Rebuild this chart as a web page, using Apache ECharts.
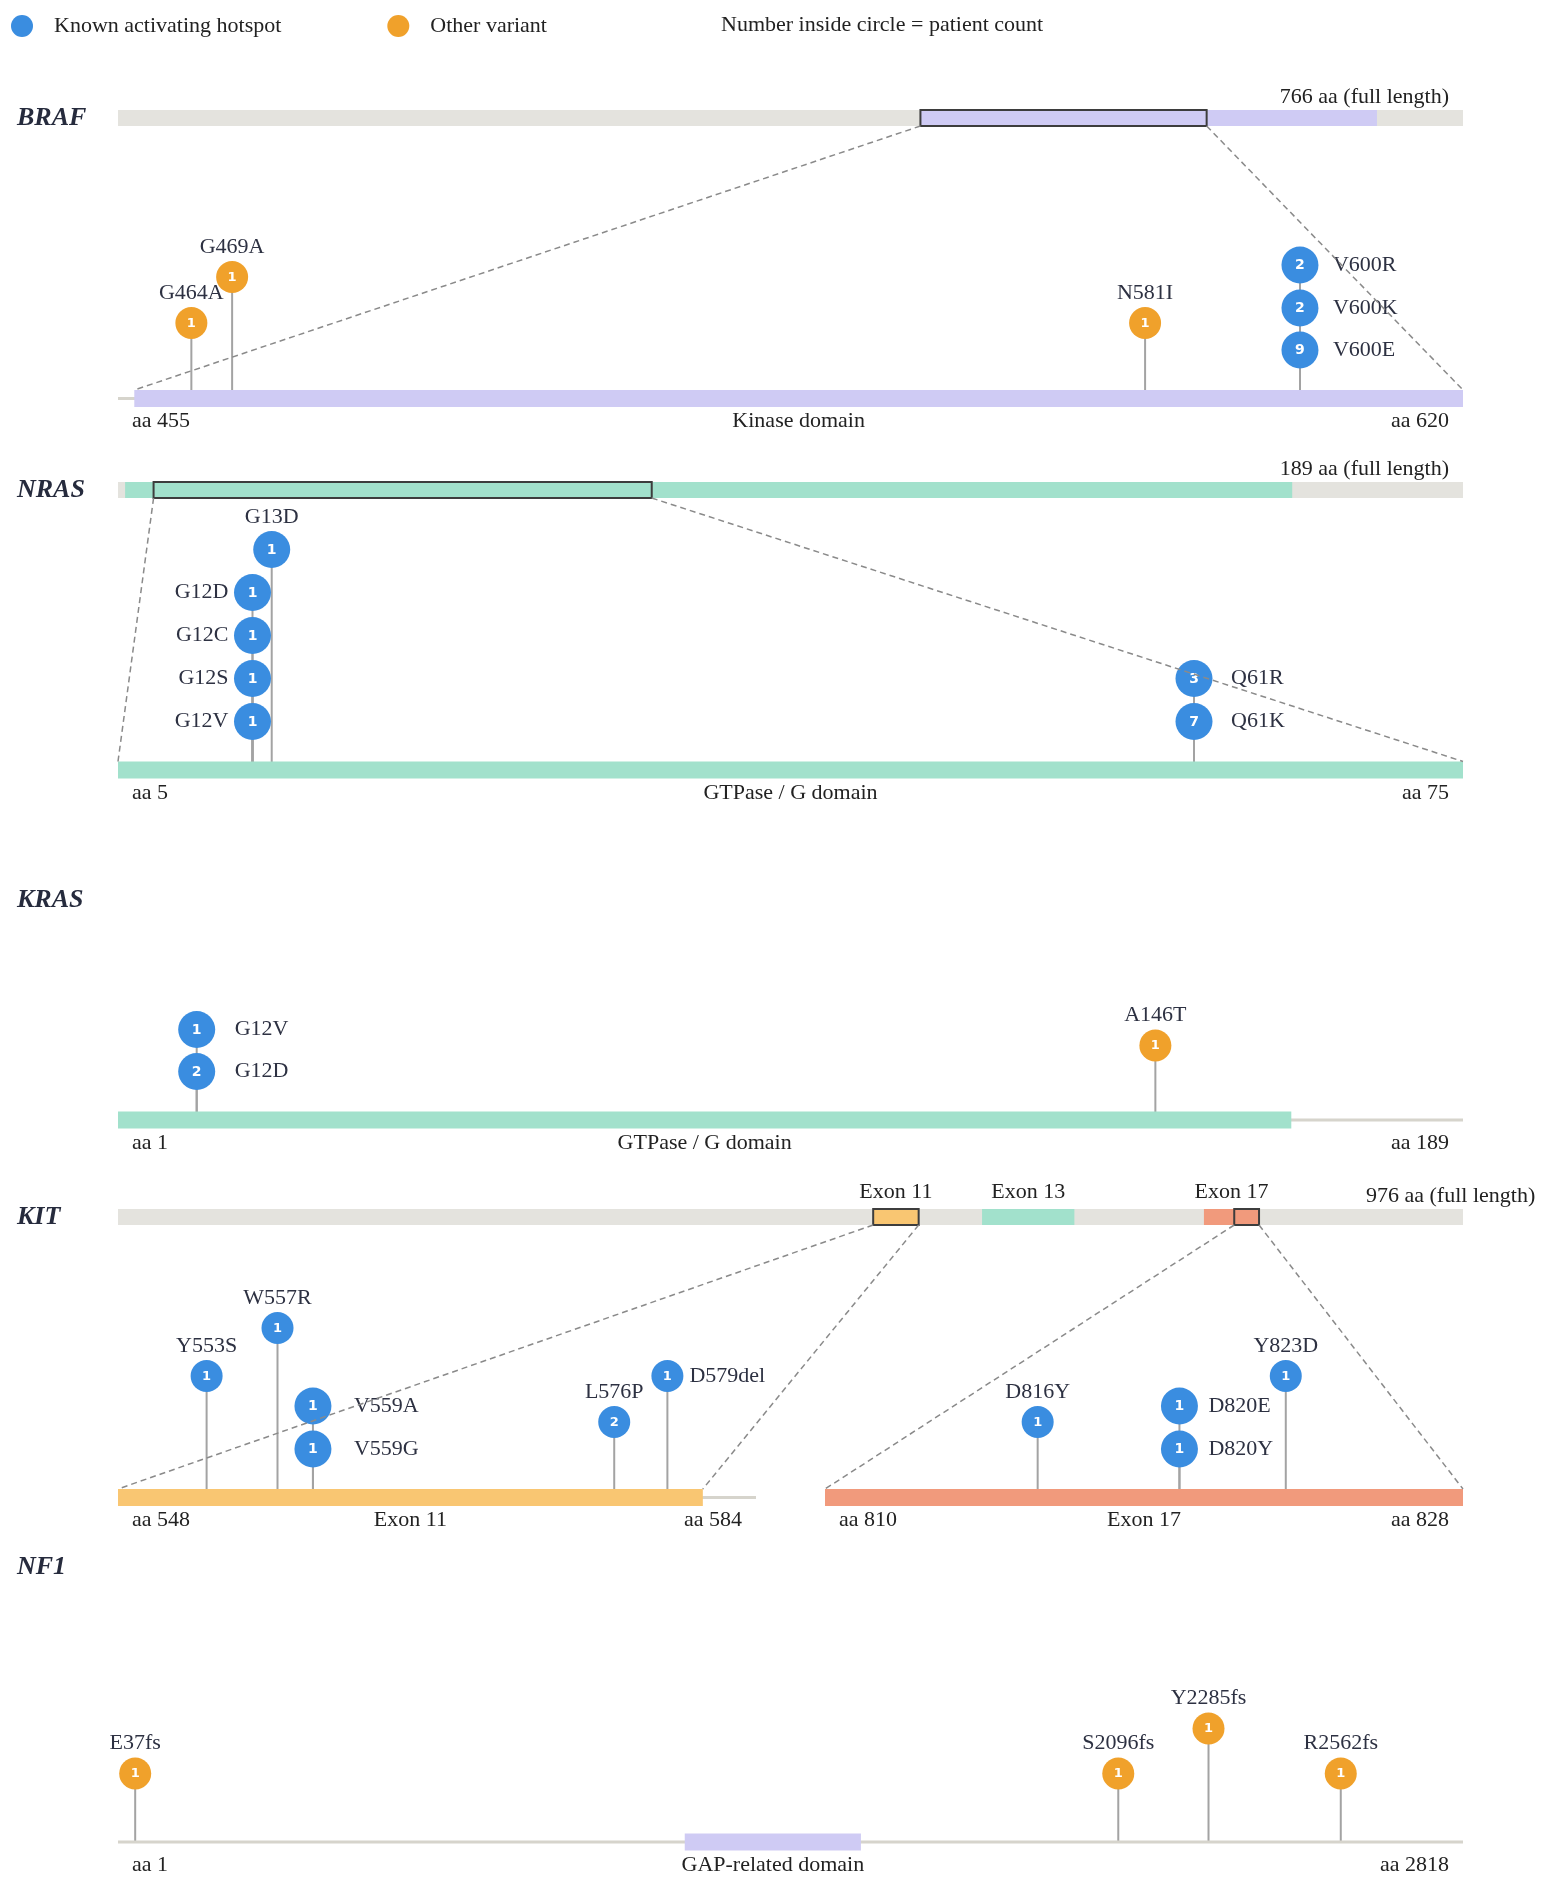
<!DOCTYPE html>
<html>
<head>
<meta charset="utf-8">
<title>Variant lollipops</title>
<script src="https://cdn.jsdelivr.net/npm/echarts@6/dist/echarts.min.js"></script>
<style>
  html, body { margin: 0; padding: 0; background: #fff; }
  #chart { width: 1548px; height: 1887px; }
</style>
</head>
<body>
<div id="chart"></div>
<script>
// ---------- data ----------
const legendNames = ['Known activating hotspot', 'Other variant'];
const legendNote = 'Number inside circle = patient count';

// mutation rows: [name, aa position, patients, known hotspot]
const brafLength = 766;
const brafDomains = [['Kinase domain', 457, 717]];
const brafWindow = [455, 620];
const brafMutations = [
  ['G464A', 464, 1, false],
  ['G469A', 469, 1, false],
  ['N581I', 581, 1, false],
  ['V600E', 600, 9, true],
  ['V600K', 600, 2, true],
  ['V600R', 600, 2, true]
];

const nrasLength = 189;
const nrasDomains = [['GTPase / G domain', 1, 165]];
const nrasWindow = [5, 75];
const nrasMutations = [
  ['G12V', 12, 1, true],
  ['G12S', 12, 1, true],
  ['G12C', 12, 1, true],
  ['G12D', 12, 1, true],
  ['G13D', 13, 1, true],
  ['Q61K', 61, 7, true],
  ['Q61R', 61, 3, true]
];

const krasLength = 189;
const krasDomains = [['GTPase / G domain', 1, 165]];
const krasMutations = [
  ['G12D', 12, 2, true],
  ['G12V', 12, 1, true],
  ['A146T', 146, 1, false]
];

const kitLength = 976;
const kitExons = [['Exon 11', 548, 581], ['Exon 13', 627, 694], ['Exon 17', 788, 828]];
const kitWindow11 = [548, 584];
const kitWindow17 = [810, 828];
const kitMutations = [
  ['Y553S', 553, 1, true],
  ['W557R', 557, 1, true],
  ['V559G', 559, 1, true],
  ['V559A', 559, 1, true],
  ['L576P', 576, 2, true],
  ['D579del', 579, 1, true],
  ['D816Y', 816, 1, true],
  ['D820Y', 820, 1, true],
  ['D820E', 820, 1, true],
  ['Y823D', 823, 1, true]
];

const nf1Length = 2818;
const nf1Domains = [['GAP-related domain', 1188, 1557]];
const nf1Mutations = [
  ['E37fs', 37, 1, false],
  ['S2096fs', 2096, 1, false],
  ['Y2285fs', 2285, 1, false],
  ['R2562fs', 2562, 1, false]
];

// ---------- layout / style ----------
const SERIF = '"Liberation Serif", "Times New Roman", serif';
const TEXT = '#2d3142';
const BLUE = '#3a8de0';
const ORANGE = '#f0a12b';
const BG = '#e4e3de';
const THIN = '#d6d4cc';
const STEM = '#a3a3a3';
const domainColor = {
  'Kinase domain': '#cfcbf4',
  'GAP-related domain': '#cfcbf4',
  'GTPase / G domain': '#a2e1cc',
  'Exon 11': '#f9c672',
  'Exon 13': '#a2e1cc',
  'Exon 17': '#f19a7c'
};
const HALF = 8.5; // half height of zoomed bars

// lift of circle centre above bar top, label side, label offset, radius
const lolliLayout = {
  'BRAF:G464A': [67, 'top', 0, 16],
  'BRAF:G469A': [113, 'top', 0, 16],
  'BRAF:N581I': [67, 'top', 0, 16],
  'BRAF:V600E': [40, 'right', 33, 18.5],
  'BRAF:V600K': [82, 'right', 33, 18.5],
  'BRAF:V600R': [125, 'right', 33, 18.5],
  'NRAS:G12V': [40, 'left', 24, 18.5],
  'NRAS:G12S': [83, 'left', 24, 18.5],
  'NRAS:G12C': [126, 'left', 24, 18.5],
  'NRAS:G12D': [169, 'left', 24, 18.5],
  'NRAS:G13D': [212, 'top', 0, 18.5],
  'NRAS:Q61K': [40, 'right', 37, 18.5],
  'NRAS:Q61R': [83, 'right', 37, 18.5],
  'KRAS:G12D': [40, 'right', 38, 18.5],
  'KRAS:G12V': [82, 'right', 38, 18.5],
  'KRAS:A146T': [66, 'top', 0, 16],
  'KIT:Y553S': [113, 'top', 0, 16],
  'KIT:W557R': [161, 'top', 0, 16],
  'KIT:V559G': [40, 'right', 41, 18.5],
  'KIT:V559A': [83, 'right', 41, 18.5],
  'KIT:L576P': [67, 'top', 0, 16],
  'KIT:D579del': [113, 'right', 22, 16],
  'KIT:D816Y': [67, 'top', 0, 16],
  'KIT:D820Y': [40, 'right', 29, 18.5],
  'KIT:D820E': [83, 'right', 29, 18.5],
  'KIT:Y823D': [113, 'top', 0, 16],
  'NF1:E37fs': [60, 'top', 0, 16],
  'NF1:S2096fs': [60, 'top', 0, 16],
  'NF1:Y2285fs': [105, 'top', 0, 16],
  'NF1:R2562fs': [60, 'top', 0, 16]
};

const geneTitles = [['BRAF', 118], ['NRAS', 490], ['KRAS', 900], ['KIT', 1217], ['NF1', 1567]];

const tracks = [
  { range: [0, brafLength], y: 118, left: 118, width: 1345, kind: 'bar', domains: brafDomains,
    note: brafLength + ' aa (full length)', noteAlign: 'right', noteDx: -14 },
  { range: brafWindow, y: 398.5, left: 118, width: 1345, kind: 'line', domains: brafDomains,
    gene: 'BRAF', muts: brafMutations },
  { range: [0, nrasLength], y: 490, left: 118, width: 1345, kind: 'bar', domains: nrasDomains,
    note: nrasLength + ' aa (full length)', noteAlign: 'right', noteDx: -14 },
  { range: nrasWindow, y: 770, left: 118, width: 1345, kind: 'line', domains: nrasDomains,
    gene: 'NRAS', muts: nrasMutations },
  { range: [1, krasLength], y: 1120, left: 118, width: 1345, kind: 'line', domains: krasDomains,
    gene: 'KRAS', muts: krasMutations },
  { range: [0, kitLength], y: 1217, left: 118, width: 1345, kind: 'bar', domains: kitExons,
    note: kitLength + ' aa (full length)', noteAlign: 'left', noteDx: -97, exonLabels: true },
  { range: kitWindow11, y: 1497.5, left: 118, width: 638, kind: 'line', domains: kitExons,
    gene: 'KIT', muts: kitMutations },
  { range: kitWindow17, y: 1497.5, left: 825, width: 638, kind: 'line', domains: kitExons,
    gene: 'KIT', muts: kitMutations },
  { range: [1, nf1Length], y: 1842, left: 118, width: 1345, kind: 'line', domains: nf1Domains,
    gene: 'NF1', muts: nf1Mutations }
];
// overview track -> zoomed track
const links = [[0, 1], [2, 3], [5, 6], [5, 7]];

function textStyle(text, x, y, size, align, color, weight, family) {
  return {
    text: text, x: x, y: y, fill: color || TEXT,
    fontSize: size, fontFamily: family || SERIF, fontWeight: weight || 'normal',
    align: align, textAlign: align, verticalAlign: 'middle', textVerticalAlign: 'middle'
  };
}

// extent of the domains that fall inside a zoom window
function zoomSpan(t) {
  let s = Infinity, e = -Infinity;
  t.domains.forEach(d => {
    const a = Math.max(d[1], t.range[0]), b = Math.min(d[2], t.range[1]);
    if (b > a) { s = Math.min(s, a); e = Math.max(e, b); }
  });
  return [s, e];
}

tracks.forEach(t => { t.boxes = []; });
links.forEach(l => {
  l.span = zoomSpan(tracks[l[1]]);
  tracks[l[0]].boxes.push(l.span);
});

function trackItems(t) {
  const items = [{ value: [t.range[0], t.range[1]], kind: t.kind }];
  t.domains.forEach(d => {
    const s = Math.max(d[1], t.range[0]), e = Math.min(d[2], t.range[1]);
    if (e > s) items.push({ value: [s, e], kind: 'domain', name: d[0] });
  });
  t.boxes.forEach(b => items.push({ value: b, kind: 'box' }));
  return items;
}

function renderTrack(t, items) {
  return function (params, api) {
    const it = items[params.dataIndex];
    const a = api.coord([it.value[0], 0]);
    const b = api.coord([it.value[1], 0]);
    const y = a[1];
    const w = b[0] - a[0];
    const kids = [];
    if (it.kind === 'bar') {
      kids.push({ type: 'rect', shape: { x: a[0], y: y - 8, width: w, height: 16 }, style: { fill: BG } });
      if (t.note) {
        kids.push({ type: 'text', style: textStyle(t.note, b[0] + t.noteDx, y - 21, 22, t.noteAlign, '#222') });
      }
    } else if (it.kind === 'line') {
      kids.push({ type: 'rect', shape: { x: a[0], y: y - 1.5, width: w, height: 3 }, style: { fill: THIN } });
      kids.push({ type: 'text', style: textStyle('aa ' + t.range[0], a[0] + 14, y + 23, 22, 'left', '#222') });
      kids.push({ type: 'text', style: textStyle('aa ' + t.range[1], b[0] - 14, y + 23, 22, 'right', '#222') });
    } else if (it.kind === 'domain') {
      const h = t.kind === 'bar' ? 16 : 17;
      kids.push({ type: 'rect', shape: { x: a[0], y: y - h / 2, width: w, height: h },
        style: { fill: domainColor[it.name] } });
      if (t.kind === 'line') {
        kids.push({ type: 'text', style: textStyle(it.name, a[0] + w / 2, y + 23, 22, 'center', '#222') });
      } else if (t.exonLabels) {
        kids.push({ type: 'text', style: textStyle(it.name, a[0] + w / 2, y - 25, 22, 'center', '#222') });
      }
    } else if (it.kind === 'box') {
      kids.push({ type: 'rect', shape: { x: a[0], y: y - 8, width: w, height: 16 },
        style: { fill: 'none', stroke: '#3d3d3d', lineWidth: 2 }, z2: 5 });
    }
    return { type: 'group', children: kids };
  };
}

function renderMuts(t, muts) {
  return function (params, api) {
    const m = muts[params.dataIndex];
    const lay = lolliLayout[t.gene + ':' + m[0]];
    const base = api.coord([m[1], 0]);
    const c = api.coord([m[1], HALF + lay[0]]);
    const r = lay[3];
    const kids = [
      { type: 'line', z2: 1, shape: { x1: base[0], y1: base[1], x2: c[0], y2: c[1] },
        style: { stroke: STEM, lineWidth: 2 } },
      { type: 'circle', z2: 5, shape: { cx: c[0], cy: c[1], r: r },
        style: { fill: m[3] ? BLUE : ORANGE } },
      { type: 'text', z2: 6, style: textStyle(String(m[2]), c[0], c[1] + 0.5, r > 17 ? 14 : 13, 'center', '#fff', 'bold', '"DejaVu Sans", sans-serif') }
    ];
    let lx = c[0], ly = c[1], align = 'center';
    if (lay[1] === 'top') { ly = c[1] - r - 14; }
    else if (lay[1] === 'right') { lx = c[0] + lay[2]; align = 'left'; }
    else { lx = c[0] - lay[2]; align = 'right'; }
    kids.push({ type: 'text', z2: 6, style: textStyle(m[0], lx, ly, 22, align, TEXT) });
    return { type: 'group', children: kids };
  };
}

const grid = [], xAxis = [], yAxis = [], series = [];
tracks.forEach((t, i) => {
  const up = t.muts ? 280 : 60, down = 40;
  grid.push({ left: t.left, width: t.width, top: t.y - up, height: up + down });
  xAxis.push({ type: 'value', gridIndex: i, min: t.range[0], max: t.range[1], show: false });
  yAxis.push({ type: 'value', gridIndex: i, min: -down, max: up, show: false });
  const items = trackItems(t);
  series.push({
    type: 'custom', xAxisIndex: i, yAxisIndex: i, clip: false, silent: true, z: 3,
    data: items.map(it => it.value),
    renderItem: renderTrack(t, items)
  });
  if (t.muts) {
    const muts = t.muts.filter(m => m[1] >= t.range[0] && m[1] <= t.range[1]);
    series.push({
      type: 'custom', xAxisIndex: i, yAxisIndex: i, clip: false, silent: true, z: 2,
      data: muts.map(m => [m[1], HALF + lolliLayout[t.gene + ':' + m[0]][0]]),
      renderItem: renderMuts(t, muts)
    });
  }
});

// legend-only series
series.push({ type: 'scatter', name: legendNames[0], data: [], itemStyle: { color: BLUE, opacity: 1 } });
series.push({ type: 'scatter', name: legendNames[1], data: [], itemStyle: { color: ORANGE, opacity: 1 } });

const chart = echarts.init(document.getElementById('chart'));
chart.setOption({
  backgroundColor: '#fff',
  animation: false,
  legend: {
    left: 6, top: 10, itemWidth: 22, itemHeight: 22, itemGap: 106, icon: 'circle',
    selectedMode: false, data: legendNames,
    itemStyle: { opacity: 1 },
    textStyle: { fontFamily: SERIF, fontSize: 22, color: '#222', padding: [0, 0, 0, 16] }
  },
  grid: grid,
  xAxis: xAxis,
  yAxis: yAxis,
  series: series
});

// titles, note and the dashed zoom connectors
const graphic = [];
graphic.push({ type: 'text', x: 721, y: 25, style: textStyle(legendNote, 0, 0, 22, 'left', '#222') });
geneTitles.forEach(g => {
  graphic.push({ type: 'text', x: 17, y: g[1],
    style: Object.assign(textStyle(g[0], 0, 0, 26, 'left', '#262b3d', 'bold'), { fontStyle: 'italic' }) });
});
links.forEach(l => {
  const fi = l[0], zi = l[1];
  const y1 = chart.convertToPixel({ yAxisIndex: fi }, -8);
  const y2 = chart.convertToPixel({ yAxisIndex: zi }, HALF);
  l.span.forEach(v => {
    const x1 = chart.convertToPixel({ xAxisIndex: fi }, v);
    const x2 = chart.convertToPixel({ xAxisIndex: zi }, v);
    graphic.push({ type: 'line', z: 100, silent: true, shape: { x1: x1, y1: y1, x2: x2, y2: y2 },
      style: { stroke: '#8a8a8a', lineWidth: 1.5, lineDash: [6, 4] } });
  });
});
chart.setOption({ graphic: graphic });
</script>
</body>
</html>
